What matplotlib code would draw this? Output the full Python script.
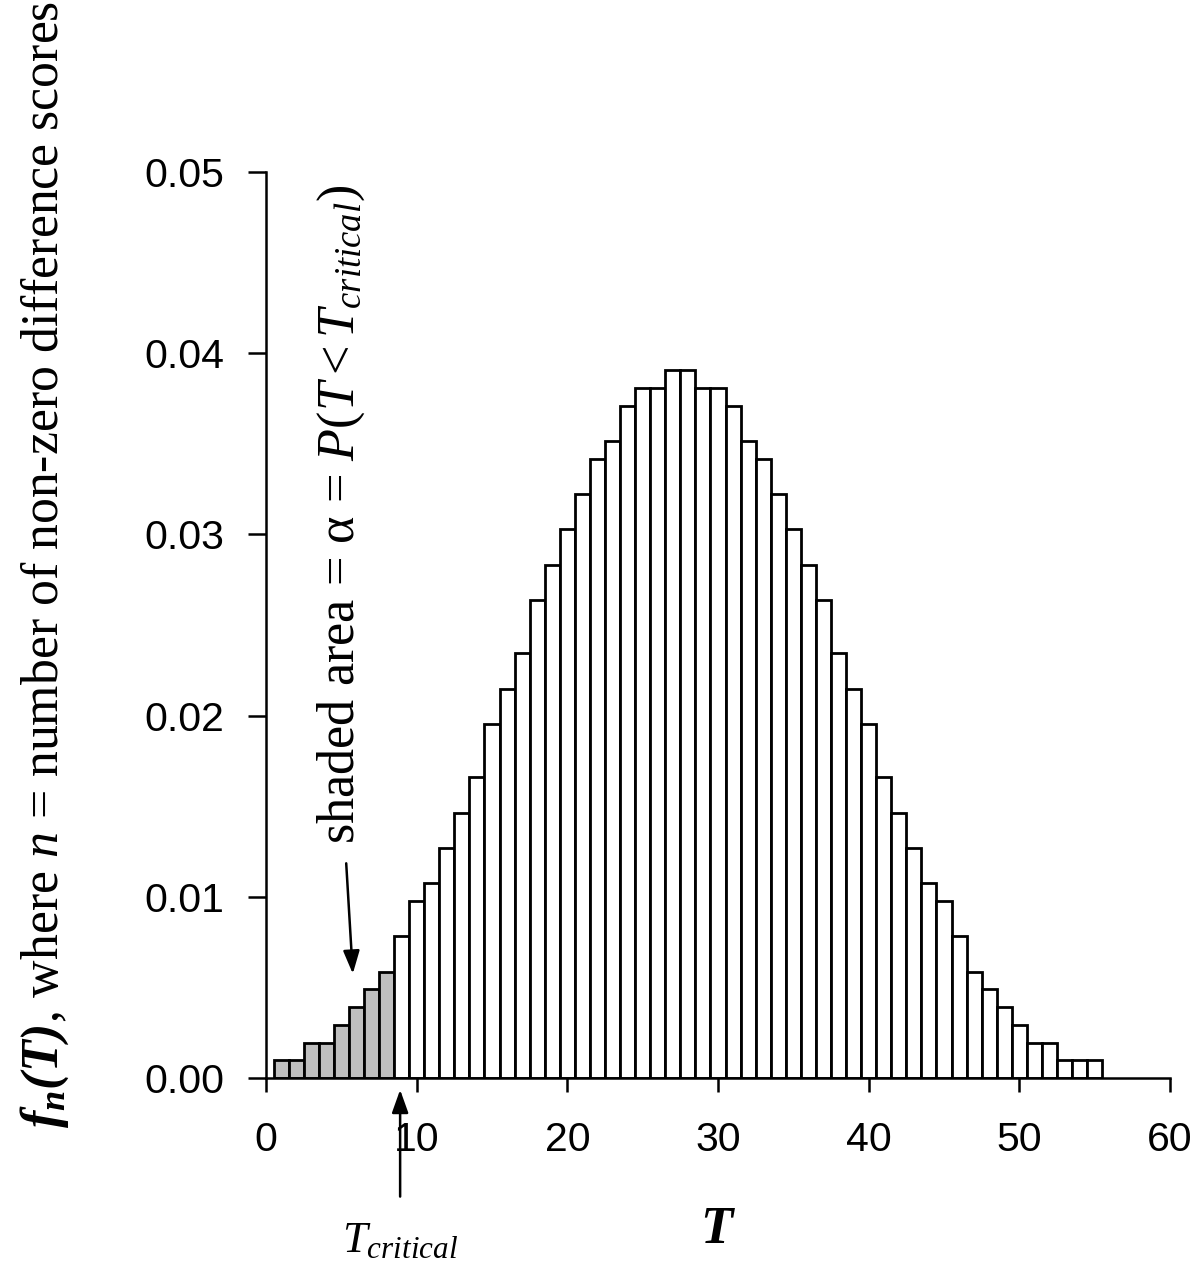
import matplotlib.pyplot as plt

# Wilcoxon signed-rank null distribution, n = 10 (counts out of 2^10)
T_values = list(range(1, 56))
counts = [1, 1, 2, 2, 3, 4, 5, 6, 8, 10, 11, 13, 15, 17, 20, 22, 24, 27, 29, 31,
          33, 35, 36, 38, 39, 39, 40, 40, 39, 39, 38, 36, 35, 33, 31, 29, 27, 24,
          22, 20, 17, 15, 13, 11, 10, 8, 6, 5, 4, 3, 2, 2, 1, 1, 1]
total = 1024
T_critical = 8.9
shaded_upto = 8

x_ticks = [0, 10, 20, 30, 40, 50, 60]
y_ticks = [0.00, 0.01, 0.02, 0.03, 0.04, 0.05]
y_tick_labels = ["0.00", "0.01", "0.02", "0.03", "0.04", "0.05"]

plt.rcParams['mathtext.fontset'] = 'custom'
plt.rcParams['mathtext.rm'] = 'Liberation Serif'
plt.rcParams['mathtext.it'] = 'Liberation Serif:italic'
plt.rcParams['mathtext.bf'] = 'Liberation Serif:bold:italic'

probs = [c / total for c in counts]
colors = ['#bfbfbf' if t <= shaded_upto else 'white' for t in T_values]

fig = plt.figure(figsize=(12, 12.76), dpi=100)
ax = fig.add_axes([0.2217, 0.1552, 0.7533, 0.71])

ax.bar(T_values, probs, width=1, color=colors, edgecolor='black', linewidth=2.0)

ax.set_xlim(0, 60)
ax.set_ylim(0, 0.05)
ax.spines['top'].set_visible(False)
ax.spines['right'].set_visible(False)
ax.spines['left'].set_linewidth(1.8)
ax.spines['bottom'].set_linewidth(1.8)

ax.set_xticks(x_ticks)
ax.set_yticks(y_ticks)
ax.set_yticklabels(y_tick_labels)
ax.tick_params(axis='y', direction='out', length=13, width=1.8, pad=17)
ax.tick_params(axis='x', direction='out', length=10, width=1.8, pad=21)
for lab in ax.get_xticklabels() + ax.get_yticklabels():
    lab.set_fontfamily('Liberation Sans')
    lab.set_fontsize(29.5)

#axis labels
ax.set_xlabel(r'$\mathbf{T}$', fontsize=38, va='center')
ax.xaxis.set_label_coords(0.5, -0.1656)
fig.text(0.0375, 0.116, r'$\mathbf{f_n(T)}$, where $n$ = number of non-zero difference scores',
         rotation=90, ha='center', va='bottom', fontsize=37.3, family='Liberation Serif')

#shaded area annotation
ax.text(4.98, 0.0129, r'shaded area = α = $P(T < T_{critical})$', rotation=90,
        ha='center', va='bottom', fontsize=37.6, family='Liberation Serif')
ax.annotate('', xy=(5.77, 0.0056), xytext=(5.31, 0.0120),
            arrowprops=dict(arrowstyle='-|>,head_length=0.7,head_width=0.25',
                            color='black', lw=1.8, mutation_scale=20))

#T critical arrow
ax.annotate('', xy=(T_critical, -0.0005), xytext=(T_critical, -0.0067),
            annotation_clip=False,
            arrowprops=dict(arrowstyle='-|>,head_length=0.7,head_width=0.25',
                            color='black', lw=1.8, mutation_scale=20))
ax.text(T_critical, -0.0090, r'$T_{critical}$', ha='center', va='center',
        fontsize=32, family='Liberation Serif')

fig.savefig('out.png', dpi=100)
